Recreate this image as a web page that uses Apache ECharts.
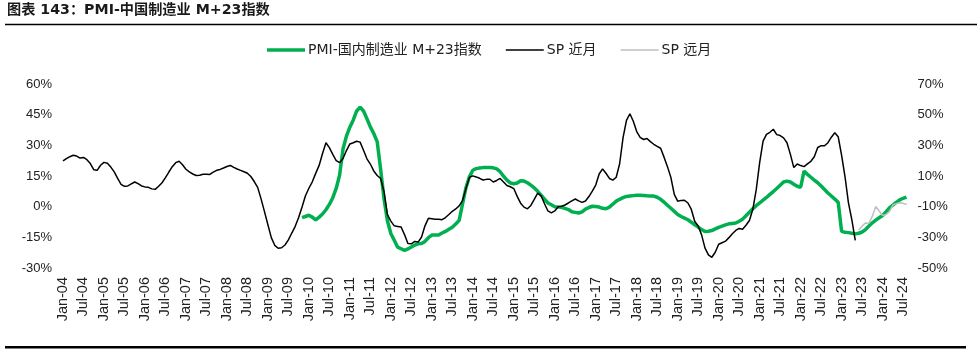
<!DOCTYPE html>
<html><head><meta charset="utf-8">
<script src="https://cdn.jsdelivr.net/npm/echarts@6/dist/echarts.min.js"></script>
<style>html,body{margin:0;padding:0;background:#fff}#c{width:977px;height:355px}</style>
</head><body><div id="c"></div>
<script>
// ---- data ----
const monthNames = ['Jan','Feb','Mar','Apr','May','Jun','Jul','Aug','Sep','Oct','Nov','Dec'];
const startYear = 2004, endYear = 2024, endMonth = 8; // Jan-04 .. Aug-24
const categories = [];
for (let y = startYear; y <= endYear; y++) {
  for (let m = 0; m < 12; m++) {
    if (y === endYear && m >= endMonth) break;
    categories.push(monthNames[m] + '-' + String(y % 100).padStart(2, '0'));
  }
}
const leftTicks = { min: -30, max: 60, interval: 15 };
const rightTicks = { min: -50, max: 70, interval: 20 };

// PMI-国内制造业 M+23指数 (left axis, %), Nov-09 .. Aug-24
const pmiStartIndex = 70;
const pmiValues = [
 -5.4,-4.8,-4.2,-5.1,-6.5,-5.1,-3.6,-1.5,1.1,4.4,
 8.9,15.5,28.2,34.5,38.9,42.4,46.8,48.6,46.8,43.0,
 39.0,35.8,31.8,18.4,3.9,-6.9,-13.1,-16.4,-19.8,-20.6,
 -21.4,-20.7,-19.7,-18.8,-18.2,-18.0,-17.0,-15.2,-13.9,-13.9,
 -13.9,-12.9,-12.1,-11.1,-10.1,-8.5,-6.7,1.3,9.3,14.6,
 17.8,18.6,18.9,19.1,19.2,19.2,19.0,18.5,17.1,14.9,
 13.0,11.6,11.2,11.6,12.7,12.5,11.7,10.5,9.2,7.5,
 5.6,3.7,1.8,0.9,0.0,-0.2,-0.3,-0.8,-1.4,-2.5,
 -2.8,-3.1,-2.5,-1.2,-0.4,0.2,0.1,-0.2,-0.8,-1.0,
 -0.2,1.2,2.7,3.6,4.4,5.0,5.2,5.4,5.6,5.6,
 5.5,5.3,5.2,5.2,4.6,3.6,2.2,0.7,-0.8,-2.3,
 -3.8,-4.8,-5.6,-6.4,-7.6,-8.9,-10.0,-11.2,-12.2,-12.0,
 -11.7,-10.9,-10.1,-9.5,-8.9,-8.4,-8.2,-8.0,-7.1,-6.1,
 -4.4,-2.7,-1.0,0.5,1.8,3.2,4.5,6.0,7.4,8.9,
 10.5,12.1,12.5,12.1,11.0,10.0,9.5,17.4,15.8,14.4,
 13.0,11.7,10.1,8.4,6.7,5.2,3.7,2.1,-12.1,-12.5,
 -12.7,-13.0,-13.3,-13.0,-12.4,-11.2,-9.5,-7.9,-6.6,-5.4,
 -4.3,-2.6,-0.6,0.8,2.1,3.3,4.1,4.7
];

// SP 近月 (right axis, %), Jan-04 .. May-23
const spNearValues = [
 19.8,21.3,22.6,23.5,23.0,21.7,22.1,20.6,18.1,14.1,
 13.7,17.0,18.9,18.3,15.8,12.7,8.4,4.6,3.3,3.5,
 4.8,6.1,5.0,3.5,2.9,2.6,1.6,1.3,3.3,5.6,
 8.9,12.6,16.1,18.7,19.6,17.3,14.4,12.7,11.3,10.3,
 10.5,11.2,11.2,11.0,12.5,13.7,14.3,15.2,16.2,16.9,
 15.6,14.6,13.7,12.8,11.8,9.7,6.4,2.6,-4.9,-13.2,
 -21.8,-30.2,-35.2,-37.1,-36.8,-35.0,-31.7,-27.2,-22.8,-17.1,
 -10.2,-2.9,2.0,6.2,11.7,16.9,24.7,31.7,28.5,24.1,
 20.0,18.7,21.4,26.6,30.9,31.7,32.7,32.1,26.8,21.2,
 17.8,13.3,10.3,8.5,-0.2,-15.2,-19.4,-22.5,-22.9,-23.3,
 -28.2,-34.0,-34.2,-32.7,-33.1,-29.8,-22.5,-17.6,-17.9,-18.2,
 -18.2,-18.5,-17.1,-15.1,-13.0,-11.5,-9.5,-6.0,1.8,9.1,
 10.1,9.4,8.5,7.4,7.8,7.9,6.1,7.1,8.4,6.1,
 3.8,3.0,1.8,-3.3,-7.7,-10.3,-11.4,-9.2,-5.3,-1.2,
 -2.9,-8.1,-12.8,-14.1,-12.8,-10.1,-9.7,-8.9,-7.6,-6.2,
 -5.0,-6.2,-7.2,-6.3,-3.4,0.2,4.1,11.3,14.6,11.8,
 8.4,7.3,9.2,18.0,35.0,46.3,50.6,45.7,39.0,35.2,
 33.8,34.5,32.4,30.7,29.3,28.1,22.3,16.1,9.1,-2.0,
 -6.4,-5.9,-5.8,-7.6,-11.8,-19.7,-22.6,-28.4,-37.0,-41.4,
 -43.0,-39.7,-34.5,-33.5,-32.5,-30.2,-27.7,-25.5,-24.2,-24.7,
 -22.1,-19.0,-11.7,1.1,18.7,32.7,37.2,38.5,40.5,37.0,
 36.4,34.9,31.7,24.1,15.5,17.8,16.8,16.1,17.9,19.6,
 22.6,28.6,29.8,29.7,31.7,35.3,38.2,35.6,23.4,9.5,
 -7.5,-18.6,-32.0
];

// SP 远月 (right axis, %), Jun-23 .. Aug-24
const spFarStartIndex = 233;
const spFarValues = [
 -25.2,-22.7,-20.6,-20.9,-16.2,-9.9,-12.8,-15.7,-15.1,-13.2,
 -8.9,-8.0,-7.4,-7.8,-8.6
];

// ---- build series arrays ----
function pad(start, vals) {
  const out = new Array(categories.length).fill(null);
  vals.forEach((v, k) => { if (start + k < out.length) out[start + k] = v; });
  return out;
}
const pmiSeries = pad(pmiStartIndex, pmiValues);
const nearSeries = pad(0, spNearValues);
const farSeries = pad(spFarStartIndex, spFarValues);

const FONT = "'Liberation Sans', Arial, 'Noto Sans CJK SC', sans-serif";
const LEGEND_FONT = "'DejaVu Sans', 'Noto Sans CJK SC', sans-serif";
const chart = echarts.init(document.getElementById('c'), null, { renderer: 'canvas' });
chart.setOption({
  animation: false,
  textStyle: { fontFamily: FONT },
  graphic: [
    { type: 'text', left: 7, top: 3, style: { text: '图表 143：PMI-中国制造业 M+23指数', font: "bold 14.2px 'DejaVu Sans', 'Noto Sans CJK SC', sans-serif", fill: '#1a1a1a' } },
    { type: 'line', shape: { x1: 5, y1: 24.5, x2: 977, y2: 24.5 }, style: { stroke: '#000', lineWidth: 1.3 } },
    { type: 'line', shape: { x1: 5, y1: 347.3, x2: 966, y2: 347.3 }, style: { stroke: '#000', lineWidth: 2.5 } }
  ],
  legend: {
    left: 267, top: 43, padding: 0, itemWidth: 38, itemHeight: 14, itemGap: 24,
    textStyle: { fontSize: 14, color: '#222', fontFamily: LEGEND_FONT, padding: [0, 0, 0, -2] },
    data: [
      { name: 'PMI-国内制造业 M+23指数', icon: 'path://M0,0H38V3.5H0Z' },
      { name: 'SP 近月', icon: 'path://M0,0H38V1.6H0Z' },
      { name: 'SP 远月', icon: 'path://M0,0H38V1.6H0Z' }
    ]
  },
  grid: { left: 63, right: 70.5, top: 84, bottom: 87, containLabel: false },
  xAxis: {
    type: 'category', data: categories, boundaryGap: false,
    axisLine: { show: false }, axisTick: { show: false },
    axisLabel: { interval: 5, rotate: 90, margin: 9, fontSize: 14.5, color: '#222', fontFamily: FONT },
    splitLine: { show: false }
  },
  yAxis: [
    { type: 'value', min: leftTicks.min, max: leftTicks.max, interval: leftTicks.interval,
      axisLine: { show: false }, axisTick: { show: false }, splitLine: { show: false },
      axisLabel: { formatter: '{value}%', fontSize: 13, color: '#222', margin: 11, fontFamily: FONT } },
    { type: 'value', min: rightTicks.min, max: rightTicks.max, interval: rightTicks.interval,
      axisLine: { show: false }, axisTick: { show: false }, splitLine: { show: false },
      axisLabel: { formatter: '{value}%', fontSize: 13, color: '#222', margin: 11, fontFamily: FONT } }
  ],
  series: [
    { name: 'PMI-国内制造业 M+23指数', type: 'line', yAxisIndex: 0, data: pmiSeries, symbol: 'none',
      lineStyle: { color: '#00B050', width: 3.5 }, itemStyle: { color: '#00B050' } },
    { name: 'SP 近月', type: 'line', yAxisIndex: 1, data: nearSeries, symbol: 'none',
      lineStyle: { color: '#000', width: 1.5 }, itemStyle: { color: '#000' } },
    { name: 'SP 远月', type: 'line', yAxisIndex: 1, data: farSeries, symbol: 'none',
      lineStyle: { color: '#BFBFBF', width: 1.5 }, itemStyle: { color: '#BFBFBF' } }
  ]
});
</script></body></html>
